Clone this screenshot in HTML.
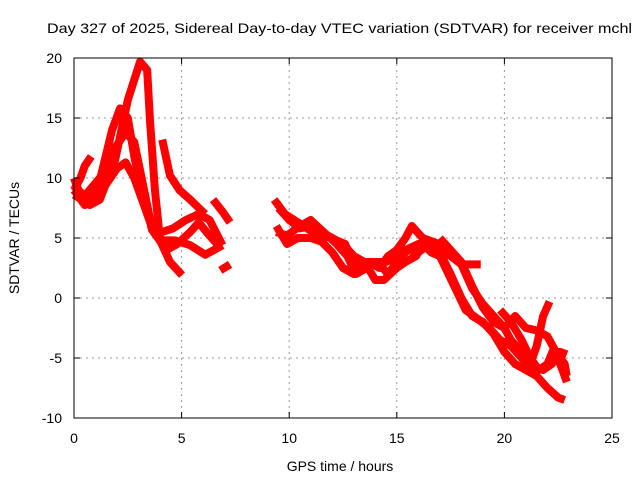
<!DOCTYPE html>
<html><head><meta charset="utf-8"><style>
body{margin:0;background:#fff}
svg{display:block;font-family:"Liberation Sans",sans-serif}
</style></head><body>
<svg id="chart" width="640" height="480" viewBox="0 0 640 480">
<rect width="640" height="480" fill="#fff"/>
<text x="47" y="33" font-size="14" textLength="585" lengthAdjust="spacingAndGlyphs">Day 327 of 2025, Sidereal Day-to-day VTEC variation (SDTVAR) for receiver mchl</text>
<g id="grid"></g>
<g id="series"></g>
<rect x="74" y="58" width="538" height="360" fill="none" stroke="#000" stroke-width="1"/>
<g id="ticks"></g>
<text x="340" y="471" font-size="14" text-anchor="middle">GPS time / hours</text>
<text transform="translate(19,238) rotate(-90)" font-size="14" text-anchor="middle">SDTVAR / TECUs</text>
</svg>
<script>
const xTicks=[0,5,10,15,20,25];
const yTicks=[-10,-5,0,5,10,15,20];
const trackA=[[0,8.6],[0.74,7.75],[1.2,8.2],[1.91,11.5],[2.5,16.5],[3.07,19.7],[3.4,19],[3.53,14.8],[3.76,9],[4,4.8],[4.46,3],[5.02,1.9]];
const trackB=[[0,9],[0.5,7.75],[1.2,9.8],[1.77,14],[2.14,15.8],[2.5,15],[2.83,11.5],[3.3,8.2],[3.62,5.7],[4,4.8],[4.7,4.8],[5.4,4.4],[6.1,3.6],[6.9,4.4]];
const trackC=[[0,9.3],[0.5,8.5],[1.2,10],[1.9,12.5],[2.4,13.8],[2.8,13],[3.2,9.5],[3.6,6],[4.1,5.5],[4.6,5.8],[5.2,6.5],[5.8,7],[6.3,6.5],[6.9,4.4]];
const trackD=[[0,10],[0.4,8],[0.9,8.5],[1.5,9.5],[2,10.8],[2.4,11.3],[2.8,10],[3.3,7.5],[3.7,5.5],[4.3,4],[4.8,4.5],[5.4,5.5],[5.8,6.3],[6.2,5.4],[6.8,4.2]];
const trackE=[[0,9],[0.3,10],[0.5,11],[0.8,11.8]];
const trackF=[[4.1,13.2],[4.46,10.2],[4.9,9],[5.4,8.2],[5.8,7.5],[6.1,7]];
const trackG=[[6.46,8.2],[6.9,7.2],[7.25,6.3]];
const trackH=[[6.8,2.3],[7.25,2.8]];
const track1=[[9.3,8.2],[9.8,7],[10.4,6.3],[11,5.6],[11.6,5.2],[12.2,4.8],[12.6,4.5],[13,2.8],[13.3,2.4],[13.7,3],[14.2,2.5],[14.6,3.5],[15,4],[15.4,5],[15.7,6],[16.2,5],[16.8,4.6],[17.5,3.8],[18,2.8],[18.5,2.8],[18.9,2.8]];
const track2=[[9.4,5.5],[9.9,5.2],[10.5,6],[11,6.5],[11.6,5.5],[12.2,4.5],[12.7,3.5],[13.1,2],[13.6,2.5],[14.1,3],[14.6,2],[15,3],[15.5,4],[16,3.8],[16.5,4.5],[17,3.8],[17.5,2],[18,0],[18.5,-1.5],[19,-2],[19.5,-3],[20,-4.5],[20.5,-5.5],[21,-6],[21.5,-6.5],[22,-7.5],[22.5,-8.3],[22.8,-8.5]];
const track3=[[9.4,6],[9.9,4.5],[10.4,5],[11,5],[11.5,4.7],[12,3.8],[12.5,2.5],[13,2],[13.5,3],[14,1.5],[14.4,1.5],[15,2.5],[15.4,3],[15.9,3.5],[16.2,4.5],[16.6,3.8],[17,3.5],[17.4,2],[17.8,0.5],[18.2,-1],[18.8,-1.8],[19.3,-2.5],[19.8,-3.5],[20.3,-4],[20.8,-5],[21.3,-5.8],[21.8,-6],[22.2,-5.5],[22.6,-4.5],[22.9,-4.7]];
const track4=[[9.5,7.5],[10,6.5],[10.5,5.8],[11,6],[11.5,5.5],[12,5],[12.5,4.5],[13,3.5],[13.5,3],[14,3],[14.5,3],[15,3.5],[15.4,4],[16,4.5],[16.6,4.5],[17,4],[17.5,3.5],[18,2.8],[18.5,0.8],[19,-0.5],[19.5,-1.5],[20,-2.5],[20.3,-3.5],[20.8,-4.5],[21.3,-5],[21.5,-4],[21.8,-1.5],[22.1,-0.3]];
const track5=[[17,5],[17.5,4],[18,3],[18.5,1],[19,-0.8],[19.5,-2],[20,-2.5],[20.5,-1.5],[21,-2.5],[21.5,-2.7],[22,-3.2],[22.4,-4.5],[22.8,-5.5],[22.9,-6.5]];
const track6=[[19.8,-1],[20.3,-2],[20.8,-3.5],[21.2,-5],[21.6,-6],[22,-5.5],[22.3,-4.2],[22.7,-6],[22.9,-7]];
const tracks=[trackA,trackB,trackC,trackD,trackE,trackF,trackG,trackH,track1,track2,track3,track4,track5,track6];
const X0=74,X1=612,Y0=418,Y1=58,xmin=0,xmax=25,ymin=-10,ymax=20;
const sx=v=>X0+(v-xmin)/(xmax-xmin)*(X1-X0);
const sy=v=>Y0-(v-ymin)/(ymax-ymin)*(Y0-Y1);
const NS="http://www.w3.org/2000/svg";
const grid=document.getElementById('grid'),ticks=document.getElementById('ticks'),ser=document.getElementById('series');
function mk(tag,attrs,parent){const e=document.createElementNS(NS,tag);for(const k in attrs)e.setAttribute(k,attrs[k]);parent.appendChild(e);return e;}
xTicks.forEach(t=>{
  const x=sx(t);
  if(t>xmin&&t<xmax){const g=mk('line',{x1:x,x2:x,y1:Y1,y2:Y0,stroke:'#999','stroke-dasharray':'2,4'},grid);
  
  }
  const a=mk('line',{x1:x,x2:x,y1:Y0,y2:Y0-6,stroke:'#000'},ticks);
  
  
  const b=mk('line',{x1:x,x2:x,y1:Y1,y2:Y1+6,stroke:'#000'},ticks);
  
  
  const l=mk('text',{x:x,y:443,'font-size':14,'text-anchor':'middle'},ticks);l.textContent=t;
  
  
});
yTicks.forEach(t=>{
  const y=sy(t);
  if(t>ymin&&t<ymax){const g=mk('line',{x1:X0,x2:X1,y1:y,y2:y,stroke:'#999','stroke-dasharray':'2,4'},grid);
  
  }
  const a=mk('line',{x1:X0,x2:X0+6,y1:y,y2:y,stroke:'#000'},ticks);
  
  
  const b=mk('line',{x1:X1,x2:X1-6,y1:y,y2:y,stroke:'#000'},ticks);
  
  
  const l=mk('text',{x:62,y:y+5,'font-size':14,'text-anchor':'end'},ticks);l.textContent=t;
  
  
});
tracks.forEach(tr=>{
  const p=mk('polyline',{points:tr.map(d=>sx(d[0])+','+sy(d[1])).join(' '),fill:'none',stroke:'#f00','stroke-width':8,'stroke-linejoin':'round','stroke-linecap':'butt'},ser);
  
  
});
</script>
</body></html>
